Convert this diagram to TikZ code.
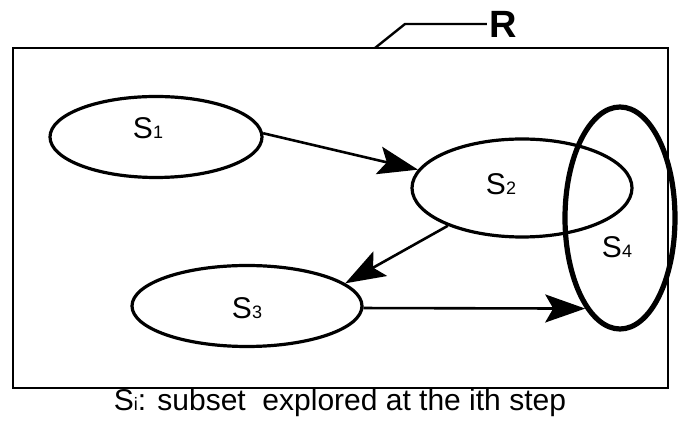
\documentclass[tikz,border=0pt]{standalone}
\usepackage{fontspec}
\setmainfont{Liberation Sans}
\usepackage{tikz}
\usetikzlibrary{arrows.meta, positioning, shapes.geometric}

\newcommand{\sub}[1]{{\fontsize{9}{10}\selectfont #1}}

\begin{document}
\begin{tikzpicture}[x=0.5pt, y=-0.5pt,
    subset/.style={draw, ellipse, line width=1.6pt, inner sep=0pt},
    lbl/.style={font=\fontsize{15}{17}\selectfont, inner sep=0pt},
    flow/.style={line width=1.3pt, -{Stealth[length=20pt, width=14pt, inset=4pt]}}]
    \useasboundingbox (0,0) rectangle (680,426);

    % Region R
    \draw[line width=1pt] (13,48) rectangle (668,388);
    \coordinate (lead) at (375,48);
    \node[font=\fontsize{19}{22}\selectfont\bfseries, inner sep=1pt] (rlab) at (503,24) {R};
    \draw[line width=1.2pt] (lead) -- (405,24) -- (rlab.west);

    % Subsets
    \node[subset, minimum width=106pt, minimum height=40.5pt] (s1) at (156,137) {};
    \node[subset, minimum width=110pt, minimum height=49pt] (s2) at (522,188) {};
    \node[subset, minimum width=115pt, minimum height=40.5pt] (s3) at (247,306) {};
    \node[subset, line width=2.6pt, minimum width=55pt, minimum height=111pt] (s4) at (620,218) {};

    \node[lbl] (t1) at (148,128) {S\sub{1}};
    \node[lbl] (t2) at (501,184) {S\sub{2}};
    \node[lbl] (t3) at (247,308) {S\sub{3}};
    \node[lbl] (t4) at (617,247) {S\sub{4}};

    % Exploration steps
    \draw[flow] (s1.2) -- (s2.170);
    \draw[flow] (s2.207) -- (s3.13);
    \draw[flow] (s3.-1.5) -- (s4.249);

    % Caption
    \node[font=\fontsize{15}{18}\selectfont, inner sep=0pt] (cap) at (340,403)
        {S\sub{i}: subset\ \ explored at the ith step};
\end{tikzpicture}
\end{document}
